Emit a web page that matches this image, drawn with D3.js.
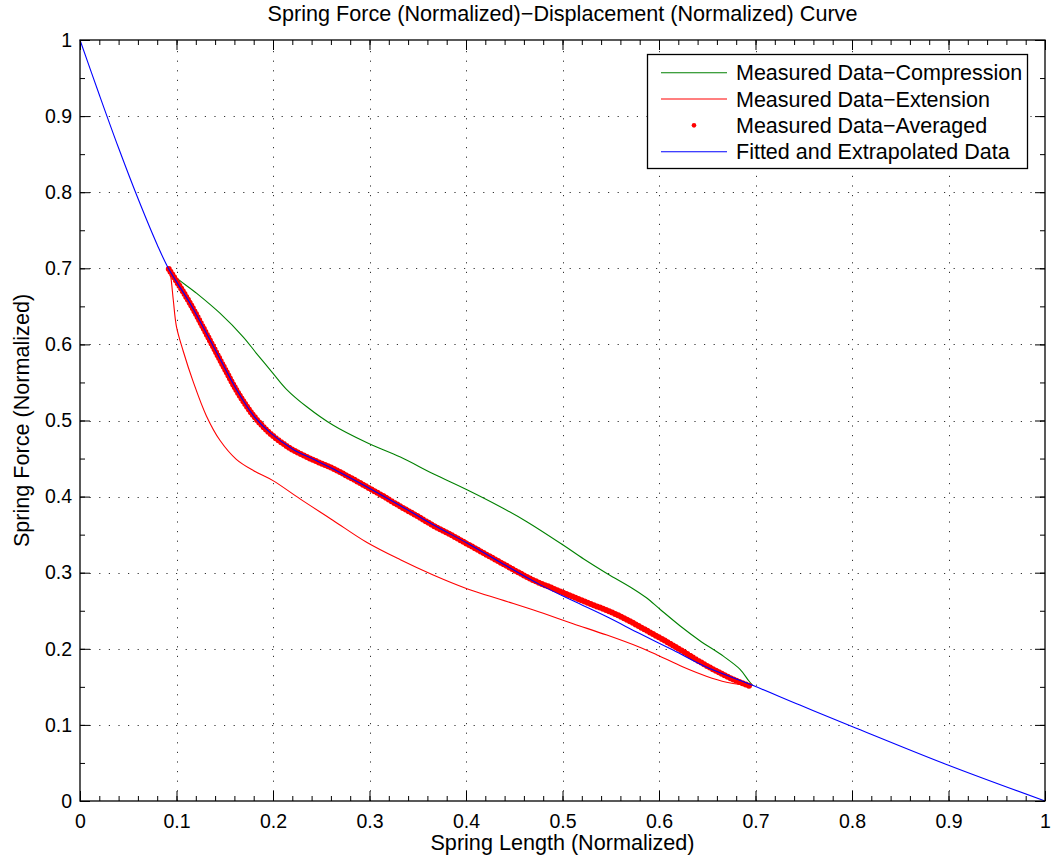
<!DOCTYPE html>
<html>
<head>
<meta charset="utf-8">
<script src="https://cdn.jsdelivr.net/npm/d3@7"></script>
<style>
  body { margin: 0; background: #fff; }
  svg { display: block; font-family: "Liberation Sans", Arial, sans-serif; }
</style>
</head>
<body>
<svg id="chart" width="1055" height="863"></svg>
<script>
// measured data, compression branch (green)
var compX = [0.092, 0.0967, 0.121, 0.145, 0.169, 0.183, 0.200, 0.214, 0.235, 0.262, 0.297, 0.332, 0.366, 0.401, 0.435, 0.463, 0.501, 0.522, 0.546, 0.573, 0.587, 0.601, 0.622, 0.642, 0.667, 0.684, 0.693, 0.697];
var compY = [0.699, 0.691, 0.667, 0.641, 0.610, 0.588, 0.562, 0.541, 0.518, 0.494, 0.471, 0.452, 0.430, 0.409, 0.387, 0.367, 0.336, 0.318, 0.299, 0.279, 0.267, 0.252, 0.230, 0.211, 0.190, 0.173, 0.158, 0.152];

// measured data, extension branch (red)
var extX = [0.092, 0.094, 0.0967, 0.100, 0.107, 0.117, 0.131, 0.145, 0.162, 0.180, 0.200, 0.228, 0.262, 0.297, 0.332, 0.366, 0.401, 0.435, 0.470, 0.511, 0.546, 0.580, 0.598, 0.625, 0.649, 0.670, 0.684, 0.697];
var extY = [0.699, 0.689, 0.658, 0.623, 0.591, 0.552, 0.506, 0.474, 0.449, 0.434, 0.421, 0.397, 0.369, 0.340, 0.317, 0.297, 0.279, 0.265, 0.251, 0.233, 0.218, 0.202, 0.192, 0.176, 0.164, 0.156, 0.153, 0.152];

// averaged measurements (red dots)
var avgX = [0.092, 0.103, 0.114, 0.126, 0.138, 0.150, 0.162, 0.171, 0.180, 0.189, 0.197, 0.209, 0.221, 0.242, 0.262, 0.280, 0.297, 0.315, 0.332, 0.350, 0.366, 0.384, 0.401, 0.418, 0.435, 0.452, 0.470, 0.487, 0.504, 0.521, 0.539, 0.556, 0.573, 0.590, 0.607, 0.615, 0.632, 0.649, 0.667, 0.680, 0.694];
var avgY = [0.699, 0.677, 0.654, 0.626, 0.597, 0.568, 0.540, 0.522, 0.506, 0.493, 0.483, 0.471, 0.461, 0.448, 0.437, 0.425, 0.413, 0.400, 0.387, 0.374, 0.362, 0.350, 0.338, 0.326, 0.314, 0.302, 0.290, 0.281, 0.272, 0.263, 0.254, 0.245, 0.234, 0.222, 0.210, 0.204, 0.191, 0.178, 0.166, 0.158, 0.151];

// fitted + extrapolated (blue)
var fitX = [0, 0.02, 0.04, 0.06, 0.08, 0.092, 0.114, 0.138, 0.162, 0.180, 0.197, 0.221, 0.242, 0.266, 0.297, 0.332, 0.366, 0.401, 0.435, 0.477, 0.511, 0.546, 0.580, 0.615, 0.649, 0.697, 0.746, 0.80, 0.90, 1.0];
var fitY = [1, 0.928, 0.858, 0.792, 0.731, 0.699, 0.654, 0.598, 0.541, 0.506, 0.484, 0.462, 0.449, 0.434, 0.413, 0.388, 0.363, 0.339, 0.314, 0.284, 0.263, 0.242, 0.220, 0.198, 0.176, 0.152, 0.126, 0.098, 0.047, 0];

var xTicks = [0, 0.1, 0.2, 0.3, 0.4, 0.5, 0.6, 0.7, 0.8, 0.9, 1];
var yTicks = [0, 0.1, 0.2, 0.3, 0.4, 0.5, 0.6, 0.7, 0.8, 0.9, 1];
var xMinor = d3.range(0, 51).map(function (i) { return i / 50; });
var yMinor = d3.range(0, 21).map(function (i) { return i / 20; });

var legendNames = ["Measured Data\u2212Compression", "Measured Data\u2212Extension", "Measured Data\u2212Averaged", "Fitted and Extrapolated Data"];
var legendColors = ["#008000", "#ff0000", "#ff0000", "#0000ff"];

(function () {
  var svg = d3.select("#chart");

  var plotLeft = 80, plotRight = 1045, plotTop = 40, plotBottom = 801;
  var width = plotRight - plotLeft, height = plotBottom - plotTop;
  var labelSize = "21.6px";

  var x = d3.scaleLinear().domain([0, 1]).range([plotLeft, plotRight]);
  var y = d3.scaleLinear().domain([0, 1]).range([plotBottom, plotTop]);

  function zip(xs, ys) {
    return xs.map(function (v, i) { return [v, ys[i]]; });
  }

  // grid (dotted)
  var grid = svg.append("g").attr("class", "grid");
  grid.selectAll("line.gx").data(xTicks.slice(1, -1)).enter().append("line")
    .attr("class", "gx")
    .attr("x1", function (d) { return Math.round(x(d)) + 0.5; })
    .attr("x2", function (d) { return Math.round(x(d)) + 0.5; })
    .attr("y1", plotBottom).attr("y2", plotTop);
  grid.selectAll("line.gy").data(yTicks.slice(1, -1)).enter().append("line")
    .attr("class", "gy")
    .attr("y1", function (d) { return Math.round(y(d)) + 0.5; })
    .attr("y2", function (d) { return Math.round(y(d)) + 0.5; })
    .attr("x1", plotLeft).attr("x2", plotRight);
  grid.selectAll("line")
    .attr("stroke", "#333")
    .attr("stroke-width", 1)
    .attr("stroke-dasharray", "1.2,8.4");

  // curves
  var line = d3.line()
    .x(function (d) { return x(d[0]); })
    .y(function (d) { return y(d[1]); })
    .curve(d3.curveCatmullRom.alpha(0.5));

  svg.append("path").datum(zip(compX, compY))
    .attr("d", line).attr("fill", "none")
    .attr("stroke", "#008000").attr("stroke-width", 1.1);

  svg.append("path").datum(zip(extX, extY))
    .attr("d", line).attr("fill", "none")
    .attr("stroke", "#ff0000").attr("stroke-width", 1.1);

  // averaged data: dense '.' markers drawn as round dashes along the data path
  svg.append("path").datum(zip(avgX, avgY))
    .attr("d", line).attr("fill", "none")
    .attr("stroke", "#ff0000").attr("stroke-width", 6)
    .attr("stroke-linecap", "round")
    .attr("stroke-dasharray", "0,3.3");

  svg.append("path").datum(zip(fitX, fitY))
    .attr("d", line).attr("fill", "none")
    .attr("stroke", "#0000ff").attr("stroke-width", 1.1);

  // axes: ticks point inward on all four sides
  function styleAxis(g) {
    g.select(".domain").remove();
    g.selectAll(".tick line").attr("stroke", "#000").attr("stroke-width", 1);
    g.selectAll("text").attr("font-size", "19.5px").attr("fill", "#000")
      .attr("font-family", "Liberation Sans, Arial, sans-serif");
  }

  svg.append("g").attr("transform", "translate(0," + plotBottom + ")")
    .call(d3.axisBottom(x).tickValues(xMinor).tickSize(-5).tickFormat(""))
    .call(styleAxis);
  svg.append("g").attr("transform", "translate(0," + plotTop + ")")
    .call(d3.axisTop(x).tickValues(xMinor).tickSize(-5).tickFormat(""))
    .call(styleAxis);
  svg.append("g").attr("transform", "translate(" + plotLeft + ",0)")
    .call(d3.axisLeft(y).tickValues(yMinor).tickSize(-5).tickFormat(""))
    .call(styleAxis);
  svg.append("g").attr("transform", "translate(" + plotRight + ",0)")
    .call(d3.axisRight(y).tickValues(yMinor).tickSize(-5).tickFormat(""))
    .call(styleAxis);

  svg.append("g").attr("transform", "translate(0," + plotBottom + ")")
    .call(d3.axisBottom(x).tickValues(xTicks).tickSize(-10).tickPadding(13).tickFormat(d3.format("~g")))
    .call(styleAxis);
  svg.append("g").attr("transform", "translate(0," + plotTop + ")")
    .call(d3.axisTop(x).tickValues(xTicks).tickSize(-10).tickFormat(""))
    .call(styleAxis);
  svg.append("g").attr("transform", "translate(" + plotLeft + ",0)")
    .call(d3.axisLeft(y).tickValues(yTicks).tickSize(-10).tickPadding(8).tickFormat(d3.format("~g")))
    .call(styleAxis);
  svg.append("g").attr("transform", "translate(" + plotRight + ",0)")
    .call(d3.axisRight(y).tickValues(yTicks).tickSize(-10).tickFormat(""))
    .call(styleAxis);

  // box
  svg.append("rect")
    .attr("x", plotLeft).attr("y", plotTop).attr("width", width).attr("height", height)
    .attr("fill", "none").attr("stroke", "#000").attr("stroke-width", 1.3);

  // titles
  svg.append("text")
    .attr("x", (plotLeft + plotRight) / 2).attr("y", 21)
    .attr("text-anchor", "middle").attr("font-size", labelSize)
    .text("Spring Force (Normalized)\u2212Displacement (Normalized) Curve");

  svg.append("text")
    .attr("x", (plotLeft + plotRight) / 2).attr("y", 850)
    .attr("text-anchor", "middle").attr("font-size", labelSize)
    .text("Spring Length (Normalized)");

  svg.append("text")
    .attr("transform", "translate(29," + (plotTop + plotBottom) / 2 + ") rotate(-90)")
    .attr("text-anchor", "middle").attr("font-size", labelSize)
    .text("Spring Force (Normalized)");

  // legend
  var legend = svg.append("g");
  legend.append("rect")
    .attr("x", 647.5).attr("y", 54.5).attr("width", 380).attr("height", 114)
    .attr("fill", "#fff").attr("stroke", "#000").attr("stroke-width", 1.3);

  var rowY = d3.scaleLinear().domain([0, 3]).range([72.7, 151.7]);
  legendNames.forEach(function (name, i) {
    var ly = rowY(i);
    if (i === 2) {
      legend.append("circle").attr("cx", 694).attr("cy", ly).attr("r", 2.3).attr("fill", legendColors[i]);
    } else {
      legend.append("line").attr("x1", 661).attr("x2", 727).attr("y1", ly).attr("y2", ly)
        .attr("stroke", legendColors[i]).attr("stroke-width", 1.1);
    }
    legend.append("text").attr("x", 736).attr("y", ly).attr("dy", "0.36em")
      .attr("font-size", "21.5px").text(name);
  });
})();
</script>
</body>
</html>
